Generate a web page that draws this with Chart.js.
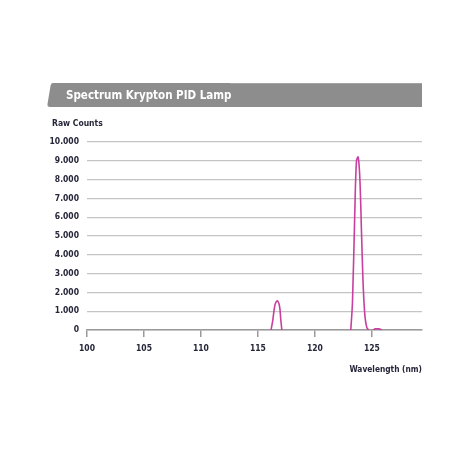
<!DOCTYPE html>
<html>
<head>
<meta charset="utf-8">
<script src="https://cdn.jsdelivr.net/npm/chart.js@4/dist/chart.umd.min.js"></script>
<style>
  html, body { margin: 0; padding: 0; background: #fff; }
  #wrap { position: relative; width: 464px; height: 466px; }
</style>
</head>
<body>
<div id="wrap"><canvas id="spectrum" width="464" height="466"></canvas></div>
<script>
// Spectrum data (nm / raw counts), null = gap on baseline
const wavelengths = [116.15, 116.3, 116.5, 116.7, 116.9, 117.0, 117.1, 120,
  123.15, 123.3, 123.5, 123.65, 123.8, 123.95, 124.1, 124.25, 124.4, 124.55, 124.7, 125,
  125.1, 125.3, 125.6, 125.9];
const rawCounts = [0, 500, 1350, 1550, 1250, 600, 0, null,
  0, 1500, 6200, 9000, 9200, 8000, 5000, 2200, 700, 150, 0, null,
  0, 60, 60, 0];
const xTicks = [100, 105, 110, 115, 120, 125];
const yMax = 10000;

const titleText = 'Spectrum Krypton PID Lamp';
const yAxisLabel = 'Raw Counts';
const xAxisLabel = 'Wavelength (nm)';

const points = wavelengths.map((w, i) => ({ x: w, y: rawCounts[i] }));
const fontFamily = '"DejaVu Sans Condensed", "Liberation Sans", sans-serif';

// gray header band + axis captions, drawn on the canvas
const decorations = {
  id: 'decorations',
  beforeDraw(chart) {
    const ctx = chart.ctx;
    const right = chart.chartArea.right;
    ctx.save();
    ctx.fillStyle = '#8d8d8d';
    ctx.beginPath();
    ctx.moveTo(53, 83);
    ctx.lineTo(right, 83);
    ctx.lineTo(right, 107);
    ctx.lineTo(50, 107);
    ctx.quadraticCurveTo(47, 107, 47.5, 104);
    ctx.lineTo(50.5, 86);
    ctx.quadraticCurveTo(51, 83, 53, 83);
    ctx.closePath();
    ctx.fill();
    ctx.fillStyle = '#a4a4a4';
    ctx.fillRect(230, 83, right - 230, 1);
    ctx.restore();

    ctx.save();
    ctx.fillStyle = '#ffffff';
    ctx.font = 'bold 11.5px ' + fontFamily;
    ctx.textBaseline = 'middle';
    ctx.fillText(titleText, 66, 96);
    ctx.fillStyle = '#26263a';
    ctx.font = 'bold 8.5px ' + fontFamily;
    ctx.fillText(yAxisLabel, 52, 124);
    ctx.textAlign = 'right';
    ctx.font = 'bold 8.3px ' + fontFamily;
    ctx.fillText(xAxisLabel, right, 370);
    ctx.restore();
  }
};

new Chart(document.getElementById('spectrum'), {
  type: 'line',
  data: {
    datasets: [{
      data: points,
      borderColor: '#c8409f',
      borderWidth: 1.6,
      pointRadius: 0,
      tension: 0.35,
      spanGaps: false,
      fill: false
    }]
  },
  options: {
    responsive: false,
    animation: false,
    layout: { padding: { left: 0, top: 142, right: 42, bottom: 76 } },
    plugins: { legend: { display: false }, tooltip: { enabled: false } },
    scales: {
      x: {
        type: 'linear',
        min: 100,
        max: 129.4,
        afterFit(scale) { scale.height = 60; },
        afterBuildTicks(scale) { scale.ticks = xTicks.map(v => ({ value: v })); },
        border: { display: true, color: '#9a9a9a', width: 1.5 },
        grid: { display: true, drawOnChartArea: false, color: '#9a9a9a', tickLength: 7, lineWidth: 1.5 },
        ticks: {
          padding: 7,
          color: '#26263a',
          font: { family: fontFamily, size: 8.5, weight: 'bold' },
          maxRotation: 0
        }
      },
      y: {
        min: 0,
        max: yMax,
        afterFit(scale) { scale.width = 87; },
        border: { display: false },
        grid: { color: '#c4c4c4', lineWidth: 1.2, drawTicks: false },
        ticks: {
          stepSize: 1000,
          padding: 8,
          color: '#26263a',
          font: { family: fontFamily, size: 8.5, weight: 'bold' },
          callback: v => v.toLocaleString('de-DE')
        }
      }
    }
  },
  plugins: [decorations]
});
</script>
</body>
</html>
